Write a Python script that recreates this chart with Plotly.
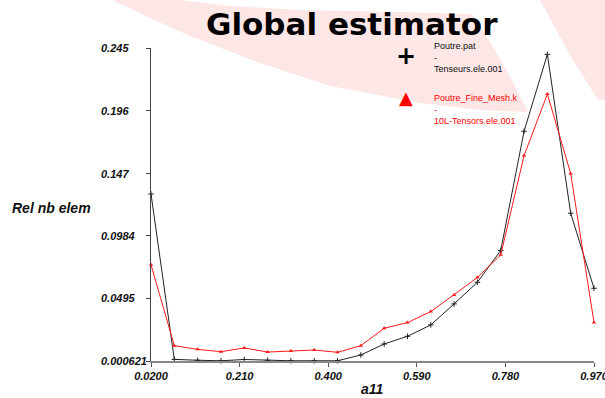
import plotly.graph_objects as go

# ---- data ----
a11 = [0.02, 0.07, 0.12, 0.17, 0.22, 0.27, 0.32, 0.37, 0.42, 0.47,
       0.52, 0.57, 0.62, 0.67, 0.72, 0.77, 0.82, 0.87, 0.92, 0.97]
poutre_pat = [0.131, 0.0019, 0.0012, 0.0008, 0.0018, 0.0012, 0.0008, 0.0008, 0.0008, 0.0053,
              0.0139, 0.0199, 0.0288, 0.0452, 0.0621, 0.0869, 0.180, 0.240, 0.116, 0.0574]
poutre_fine = [0.0757, 0.0126, 0.0097, 0.0079, 0.0108, 0.0076, 0.0084, 0.0092, 0.0074, 0.0126,
               0.0262, 0.0306, 0.0392, 0.0522, 0.0658, 0.0835, 0.161, 0.209, 0.147, 0.0306]

x_tickvals = [0.02, 0.21, 0.40, 0.59, 0.78, 0.97]
x_ticktext = ["0.0200", "0.210", "0.400", "0.590", "0.780", "0.970"]
y_tickvals = [0.000621, 0.0495, 0.0984, 0.147, 0.196, 0.245]
y_ticktext = ["0.000621", "0.0495", "0.0984", "0.147", "0.196", "0.245"]

name_black = "Poutre.pat<br>-<br>Tenseurs.ele.001"
name_red = "Poutre_Fine_Mesh.k<br>-<br>10L-Tensors.ele.001"

# ---- layout geometry (pixels) ----
W, H = 605, 398
L, R, T, B = 151, 11, 48, 37
PW, PH = W - L - R, H - T - B


def px(x):
    return (x - L) / PW


def py(y):
    return (H - B - y) / PH


def path(points):
    return "M " + " L ".join(f"{px(x):.4f},{py(y):.4f}" for x, y in points) + " Z"


# faint background watermark (decoration)
band1 = [(112, 0), (150, 18), (190, 36), (260, 63), (330, 86), (420, 103), (480, 110),
         (528, 112), (512, 80), (492, 45), (472, 14), (400, 12), (300, 10), (230, 6), (180, 0)]
band2 = [(540, 0), (605, 0), (605, 100), (598, 100), (570, 55)]

fig = go.Figure()
fig.add_trace(go.Scatter(
    x=a11, y=poutre_pat, mode="lines+markers", name=name_black,
    line=dict(color="#222222", width=1),
    marker=dict(symbol="cross-thin", size=4, line=dict(color="#222222", width=1)),
    cliponaxis=False, showlegend=False))
fig.add_trace(go.Scatter(
    x=a11, y=poutre_fine, mode="lines+markers", name=name_red,
    line=dict(color="#ff1a1a", width=1),
    marker=dict(symbol="triangle-up", size=4, color="#ff1a1a"),
    cliponaxis=False, showlegend=False))

tickfont = dict(family="Liberation Sans", size=11, color="#111111", style="italic", weight="bold")

annotations = []
for v, t in zip(y_tickvals, y_ticktext):
    annotations.append(dict(x=px(99), y=v, xref="paper", yref="y", text=t,
                            showarrow=False, xanchor="left", yanchor="middle", font=tickfont))
annotations += [
    dict(x=px(352), y=py(24), xref="paper", yref="paper", text="<b>Global estimator</b>",
         showarrow=False, xanchor="center", yanchor="middle",
         font=dict(family="DejaVu Sans", size=31, color="black")),
    dict(x=px(10), y=py(208), xref="paper", yref="paper", text="Rel nb elem",
         showarrow=False, xanchor="left", yanchor="middle",
         font=dict(family="Liberation Sans", size=14, color="#111111", style="italic", weight="bold")),
    dict(x=px(372), y=py(389), xref="paper", yref="paper", text="a11",
         showarrow=False, xanchor="center", yanchor="middle",
         font=dict(family="Liberation Sans", size=14, color="#111111", style="italic", weight="bold")),
    dict(x=px(406), y=py(56), xref="paper", yref="paper", text="<b>+</b>",
         showarrow=False, xanchor="center", yanchor="middle",
         font=dict(family="DejaVu Sans", size=24, color="black")),
    dict(x=px(406), y=py(97), xref="paper", yref="paper", text="▲",
         showarrow=False, xanchor="center", yanchor="middle",
         font=dict(family="DejaVu Sans", size=18, color="#ff0000")),
    dict(x=px(432), y=py(57), xref="paper", yref="paper", text=name_black, align="left",
         showarrow=False, xanchor="left", yanchor="middle",
         font=dict(family="Liberation Sans", size=9, color="#111111")),
    dict(x=px(432), y=py(109), xref="paper", yref="paper", text=name_red, align="left",
         showarrow=False, xanchor="left", yanchor="middle",
         font=dict(family="Liberation Sans", size=9, color="#ff0000")),
]

shapes = [
    dict(type="path", path=path(band1), xref="paper", yref="paper", layer="below",
         fillcolor="#fce6e6", line=dict(width=0)),
    dict(type="path", path=path(band2), xref="paper", yref="paper", layer="below",
         fillcolor="#fce6e6", line=dict(width=0)),
]

fig.update_layout(
    width=W, height=H,
    margin=dict(l=L, r=R, t=T, b=B, autoexpand=False),
    paper_bgcolor="white", plot_bgcolor="rgba(0,0,0,0)",
    showlegend=False,
    annotations=annotations,
    shapes=shapes,
    xaxis=dict(range=[0.02, 0.97], tickvals=x_tickvals, ticktext=x_ticktext,
               ticks="outside", ticklen=4, tickcolor="#555555", showline=True,
               linecolor="#888888", linewidth=2, showgrid=False, zeroline=False,
               tickfont=tickfont, ticklabeloverflow="allow", automargin=False),
    yaxis=dict(range=[0.000621, 0.245], tickvals=y_tickvals, showticklabels=False,
               ticks="outside", ticklen=4, tickcolor="#444444", showline=True,
               linecolor="#444444", linewidth=1, showgrid=False, zeroline=False,
               automargin=False),
)

fig.write_html("out.html", config={"displayModeBar": False},
               post_script="document.body.style.margin='0px';document.body.style.overflow='hidden';")
